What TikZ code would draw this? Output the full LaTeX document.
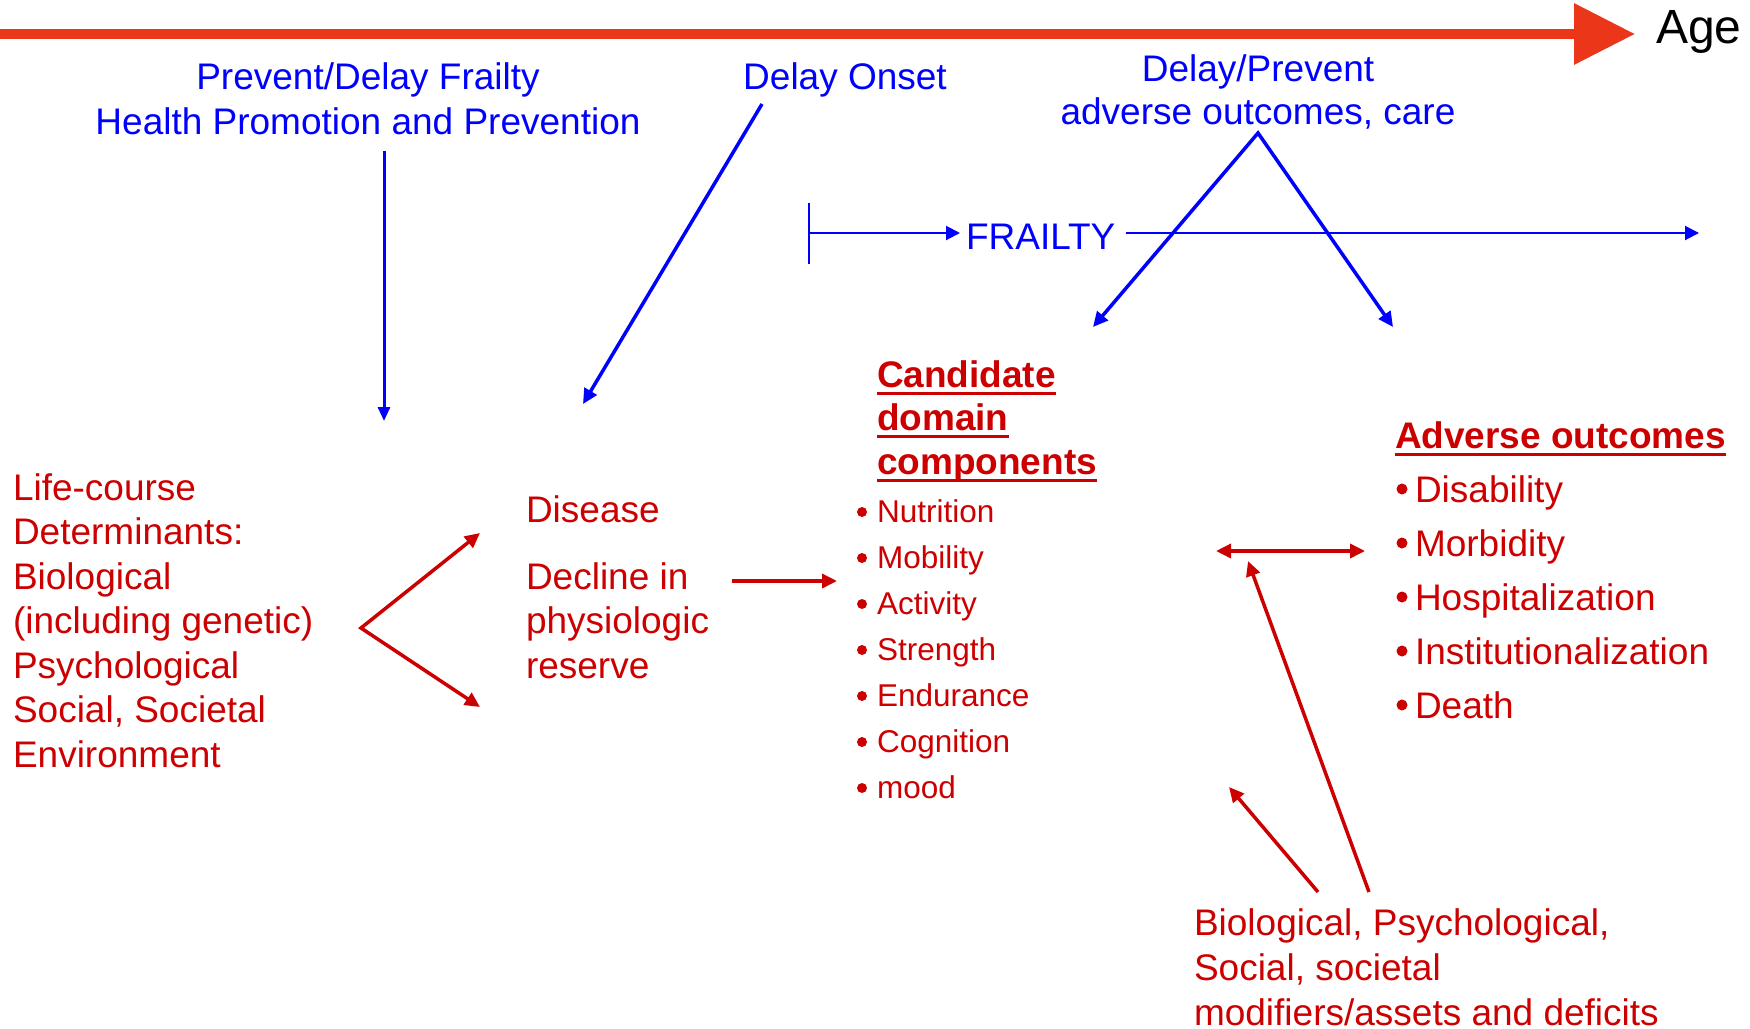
\documentclass[tikz,border=0pt]{standalone}
\usepackage{fontspec}
\setmainfont{Liberation Sans}
\usetikzlibrary{arrows.meta}
\definecolor{axisred}{RGB}{236,54,26}
\definecolor{txtred}{RGB}{204,0,0}
\definecolor{txtblue}{RGB}{0,0,255}
\tikzset{
  every node/.style={inner sep=0pt, outer sep=0pt},
  bluetxt/.style={text=txtblue, font=\fontsize{37}{44}\selectfont, anchor=base},
  redtxt/.style={text=txtred, font=\fontsize{37}{44}\selectfont, anchor=base west},
  redbold/.style={text=txtred, font=\fontsize{37}{44}\selectfont\bfseries, anchor=base west},
  redboldb/.style={text=txtred, font=\fontsize{37}{44}\selectfont\bfseries, anchor=base west},
  smallred/.style={text=txtred, font=\fontsize{31.5}{38}\selectfont, anchor=base west},
  redtip/.tip={Triangle[length=15pt,width=14pt]},
  bluetip/.tip={Triangle[length=15pt,width=14pt]},
  thintip/.tip={Triangle[length=14pt,width=14pt]},
  redarrow/.style={draw=txtred, line width=3.5pt, -redtip},
  bluearrow/.style={draw=txtblue, line width=3.5pt, -bluetip},
  thinblue/.style={draw=txtblue, line width=2pt},
  uline/.style={draw=txtred, line width=3pt},
  bul/.style={fill=txtred},
}
\begin{document}
\begin{tikzpicture}[x=1pt, y=-1pt]
\useasboundingbox (0,0) rectangle (1750,1028);
\fill[white] (0,0) rectangle (1750,1028);

% ---- Age axis
\coordinate (axL) at (0,34);
\coordinate (axR) at (1635,34);
\draw[axisred, line width=10pt, -{Triangle[length=61pt,width=59pt]}] (axL) -- (axR);
\node[anchor=base west, font=\fontsize{48}{56}\selectfont] (age) at (1656,43) {Age};

% ---- blue texts
\node[bluetxt] (pd1) at (368,89) {Prevent/Delay Frailty};
\node[bluetxt] (pd2) at (368,134) {Health Promotion and Prevention};
\node[bluetxt] (donset) at (845,89) {Delay Onset};
\node[bluetxt] (dp1) at (1258,81) {Delay/Prevent};
\node[bluetxt] (dp2) at (1258,124) {adverse outcomes, care};
\node[text=txtblue, font=\fontsize{37}{44}\selectfont, anchor=base west] (frailty) at (966,249) {FRAILTY};

% ---- blue connectors
\coordinate (pdS) at (384,151);
\coordinate (pdE) at (384,421);
\draw[draw=txtblue, line width=3pt, -{Triangle[length=14pt,width=12pt]}] (pdS) -- (pdE);

\coordinate (doS) at (762,104);
\coordinate (doE) at (583,404);
\draw[bluearrow] (doS) -- (doE);

\coordinate (aL) at (1093,327);
\coordinate (aTop) at (1258,133);
\coordinate (aR) at (1393,327);
\draw[draw=txtblue, line width=3.5pt, bluetip-bluetip, line join=miter] (aL) -- (aTop) -- (aR);

\coordinate (tkT) at (809,203);
\coordinate (tkB) at (809,264);
\coordinate (tkM) at (809,233);
\coordinate (frIn) at (960,233);
\coordinate (frOut) at (1126,233);
\coordinate (frEnd) at (1699,233);
\draw[thinblue] (tkT) -- (tkB);
\draw[thinblue, -thintip] (tkM) -- (frIn);
\draw[thinblue, -thintip] (frOut) -- (frEnd);

% ---- left determinants
\foreach \t [count=\i] in {Life-course, Determinants:, Biological, (including genetic), Psychological, {Social, Societal}, Environment}
  \node[redtxt] (lc\i) at (13,{500+44.5*(\i-1)}) {\t};

\coordinate (fkA) at (361,628);
\coordinate (fkU) at (480,533);
\coordinate (fkD) at (480,707);
\draw[draw=txtred, line width=3.5pt, redtip-redtip, line join=miter] (fkU) -- (fkA) -- (fkD);

% ---- disease / decline
\node[redtxt] (dis) at (526,522) {Disease};
\node[redtxt] (dec1) at (526,589) {Decline in};
\node[redtxt] (dec2) at (526,633.5) {physiologic};
\node[redtxt] (dec3) at (526,678) {reserve};

\coordinate (dcS) at (732,581);
\coordinate (dcE) at (837,581);
\draw[redarrow] (dcS) -- (dcE);

% ---- candidate domain components
\node[redbold] (cd1) at (877,387) {Candidate};
\node[redbold] (cd2) at (877,430) {domain};
\node[redbold] (cd3) at (877,474) {components};
\foreach \n in {cd1,cd2,cd3}
  \draw[uline] ([yshift=-6pt]\n.base west) -- ([yshift=-6pt]\n.base east);

\foreach \t [count=\i] in {Nutrition, Mobility, Activity, Strength, Endurance, Cognition, mood}{
  \node[smallred] (ci\i) at (877,{522+46*(\i-1)}) {\t};
  \fill[bul] (862,{512+46*(\i-1)}) circle (5pt);
}

% ---- adverse outcomes
\node[redboldb] (ao) at (1395,448) {Adverse outcomes};
\draw[uline] ([yshift=-6pt]ao.base west) -- ([yshift=-6pt]ao.base east);
\foreach \t [count=\i] in {Disability, Morbidity, Hospitalization, Institutionalization, Death}{
  \node[redtxt] (ai\i) at (1415,{502+54*(\i-1)}) {\t};
  \fill[bul] (1402,{489+54*(\i-1)}) circle (5.5pt);
}

\coordinate (dbL) at (1216,551);
\coordinate (dbR) at (1365,551);
\draw[draw=txtred, line width=3.5pt, redtip-redtip] (dbL) -- (dbR);

% ---- modifiers
\node[redtxt] (md1) at (1194,935) {Biological, Psychological,};
\node[redtxt] (md2) at (1194,980) {Social, societal};
\node[redtxt] (md3) at (1194,1025) {modifiers/assets and deficits};

\coordinate (m1S) at (1318,892);
\coordinate (m1E) at (1229,787);
\coordinate (m2S) at (1369,892);
\coordinate (m2E) at (1248,561);
\draw[redarrow] (m1S) -- (m1E);
\draw[redarrow] (m2S) -- (m2E);
\end{tikzpicture}
\end{document}
